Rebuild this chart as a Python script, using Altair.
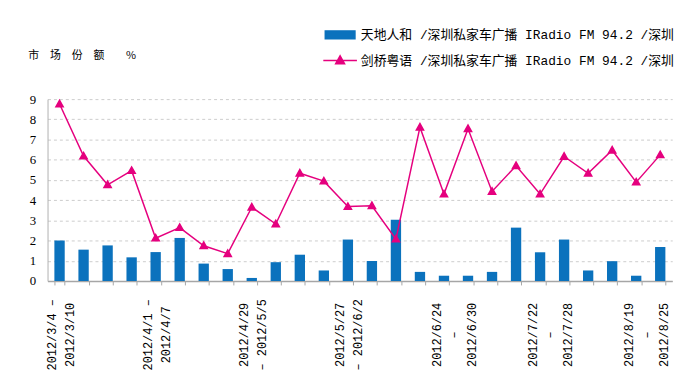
import json
import altair as alt
import pandas as pd

# ---- data ----
weeks = ["2012/3/4", "2012/3/11", "2012/3/18", "2012/3/25", "2012/4/1", "2012/4/8",
         "2012/4/15", "2012/4/22", "2012/4/29", "2012/5/6", "2012/5/13", "2012/5/20",
         "2012/5/27", "2012/6/3", "2012/6/10", "2012/6/17", "2012/6/24", "2012/7/1",
         "2012/7/8", "2012/7/15", "2012/7/22", "2012/7/29", "2012/8/5", "2012/8/12",
         "2012/8/19", "2012/8/26"]
bar_values = [2.00, 1.55, 1.76, 1.17, 1.43, 2.13, 0.86, 0.59, 0.15, 0.93, 1.30, 0.52, 2.05,
              0.99, 3.03, 0.45, 0.26, 0.26, 0.45, 2.64, 1.42, 2.05, 0.52, 0.98, 0.26, 1.68]
line_values = [8.76, 6.18, 4.76, 5.46, 2.12, 2.64, 1.74, 1.35, 3.65, 2.82, 5.33, 4.94, 3.68,
               3.72, 2.07, 7.61, 4.30, 7.53, 4.43, 5.70, 4.30, 6.16, 5.33, 6.47, 4.89, 6.24]
series_bar = "天地人和 /深圳私家车广播 IRadio FM 94.2 /深圳"
series_line = "剑桥粤语 /深圳私家车广播 IRadio FM 94.2 /深圳"
tick_labels = {
    0: ["2012/3/4 –", "2012/3/10"],
    4: ["2012/4/1 –", "2012/4/7"],
    8: ["2012/4/29", "– 2012/5/5"],
    12: ["2012/5/27", "– 2012/6/2"],
    16: ["2012/6/24", "–", "2012/6/30"],
    20: ["2012/7/22", "–", "2012/7/28"],
    24: ["2012/8/19", "–", "2012/8/25"],
}
y_title = "市　场　份　额　　%"

BLUE = "#0B72BD"
MAGENTA = "#E5007E"
MONO = "Liberation Mono, Noto Sans CJK SC"

rows = []
for w, b, l in zip(weeks, bar_values, line_values):
    rows.append({"week": w, "series": series_bar, "value": b})
    rows.append({"week": w, "series": series_line, "value": l})
df = pd.DataFrame(rows)

label_expr = ""
for idx, lines in tick_labels.items():
    label_expr += f"datum.value == '{weeks[idx]}' ? {json.dumps(lines, ensure_ascii=False)} : "
label_expr += "''"

domain = [series_bar, series_line]
color_scale = alt.Scale(domain=domain, range=[BLUE, MAGENTA])
rect_path = "M-1.5,-0.4H1.5V0.4H-1.5Z"
tri_path = "M-1.7,0H1.7M0,-0.48L0.45,0.32L-0.45,0.32Z"
shape_scale = alt.Scale(domain=domain, range=[rect_path, tri_path])

x_enc = alt.X(
    "week:N", sort=weeks, title=None,
    scale=alt.Scale(paddingInner=0.57, paddingOuter=0.285),
    axis=alt.Axis(
        labelAngle=270, labelAlign="center", labelBaseline="middle",
        labelPadding=50, labelOffset=-8, labelLineHeight=18, labelFont=MONO,
        labelFontSize=12, labelColor="#000000", labelOverlap=False, labelExpr=label_expr,
        ticks=True, tickBand="extent", tickSize=4, tickColor="#a6a6a6",
        domainColor="#a6a6a6", domainWidth=1.5, grid=False,
    ),
)
y_enc = alt.Y(
    "value:Q",
    scale=alt.Scale(domain=[0, 9], nice=False),
    axis=alt.Axis(
        values=list(range(10)), grid=True, gridDash=[3, 3], gridColor="#cccccc",
        domain=True, domainColor="#b0b0b0", ticks=False, labelPadding=12,
        labelFont="Liberation Serif", labelFontSize=13, labelColor="#000000",
        title=y_title, titleAngle=0, titleX=-20, titleY=-44, titleAlign="left",
        titleBaseline="middle", titleFont="Noto Sans CJK SC", titleFontSize=11,
        titleFontWeight="normal", titleColor="#000000",
    ),
)

base = alt.Chart(df)

bars = base.transform_filter(alt.datum.series == series_bar).mark_bar(color=BLUE).encode(
    x=x_enc, y=y_enc,
)
line = base.transform_filter(alt.datum.series == series_line).mark_line(
    strokeWidth=1.5, color=MAGENTA
).encode(
    x=x_enc, y=y_enc,
)
legend_cfg = dict(
    title=None, orient="none", legendX=285, legendY=-76, direction="vertical",
    rowPadding=8, labelOffset=10, labelFont=MONO, labelFontSize=13,
    labelColor="#000000", labelLimit=600, symbolSize=400, symbolStrokeWidth=1.5,
)
points = base.transform_filter(alt.datum.series == series_line).mark_point(
    filled=True, size=480, opacity=1, strokeWidth=0
).encode(
    x=x_enc, y=y_enc,
    color=alt.Color("series:N", scale=color_scale, legend=alt.Legend(**legend_cfg)),
    stroke=alt.Stroke("series:N", scale=color_scale, legend=alt.Legend(**legend_cfg)),
    shape=alt.Shape("series:N", scale=shape_scale, legend=alt.Legend(**legend_cfg)),
)

chart = alt.layer(bars, line, points).properties(
    width=632, height=184,
    autosize=alt.AutoSizeParams(type="none"),
    padding={"left": 40, "top": 90, "right": 20, "bottom": 97},
    background="white",
).configure_view(stroke=None)

chart.save("out.html", embed_options={"renderer": "svg", "actions": False})
